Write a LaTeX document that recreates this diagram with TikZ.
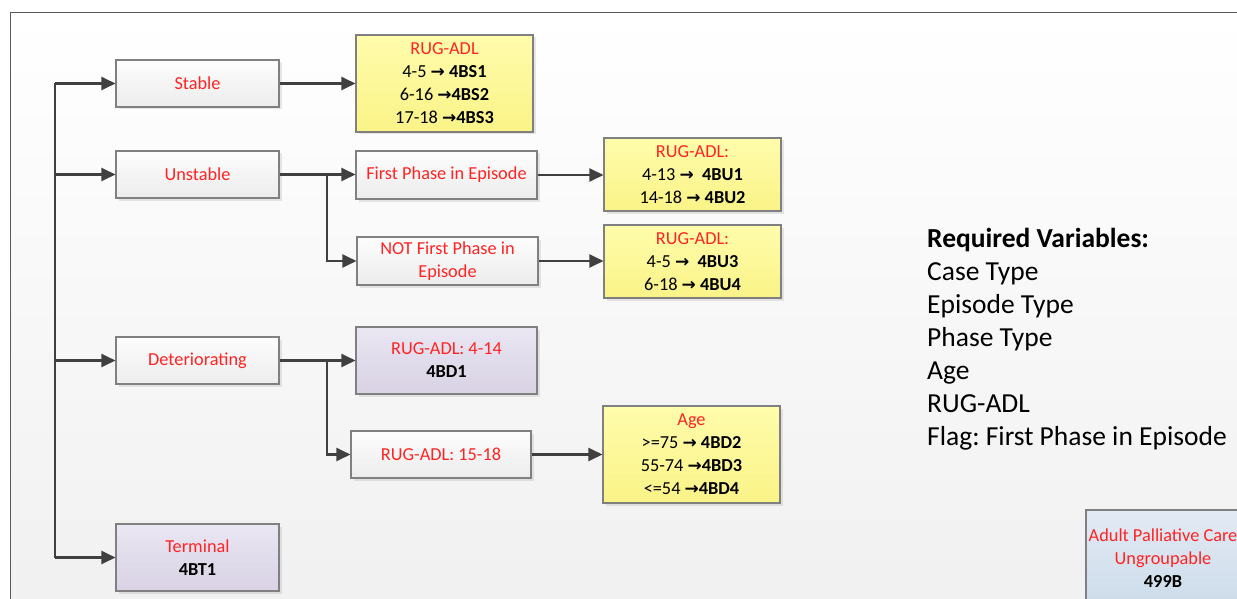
\documentclass[tikz,border=0pt]{standalone}
\usepackage{fontspec}
\setmainfont{Carlito}
\newfontfamily\dejavu{DejaVu Sans}
\usetikzlibrary{arrows.meta,shadows}
\definecolor{redtxt}{RGB}{255,35,35}
\definecolor{linec}{RGB}{64,64,64}
\definecolor{boxborder}{RGB}{128,128,128}
\definecolor{graytop}{RGB}{253,253,253}
\definecolor{graybot}{RGB}{236,236,236}
\definecolor{yeltop}{RGB}{255,252,172}
\definecolor{yelbot}{RGB}{250,243,135}
\definecolor{purtop}{RGB}{234,230,242}
\definecolor{purbot}{RGB}{216,210,228}
\definecolor{blutop}{RGB}{226,234,244}
\definecolor{blubot}{RGB}{205,220,234}
\newcommand\ar{{\dejavu\bfseries\fontsize{17pt}{23pt}\selectfont →}}
\newcommand\rt[1]{\textcolor{redtxt}{#1}}
\tikzset{
  basebox/.style={draw=boxborder, line width=1.1pt, inner sep=0pt, align=center,
    font=\fontsize{18.3pt}{23pt}\selectfont, text=redtxt,
    drop shadow={shadow xshift=2.5pt, shadow yshift=-2.5pt, opacity=0.18}},
  graybox/.style={basebox, top color=graytop, bottom color=graybot},
  yelbox/.style={basebox, top color=yeltop, bottom color=yelbot, text=black},
  purbox/.style={basebox, top color=purtop, bottom color=purbot},
  blubox/.style={basebox, top color=blutop, bottom color=blubot},
  conn/.style={draw=linec, line width=2.3pt},
  arr/.style={conn, -{Triangle[length=14pt,width=13pt]}},
}
\begin{document}
\frenchspacing
\begin{tikzpicture}[x=1pt,y=-1pt]
\useasboundingbox (0,0) rectangle (1237,599);
\clip (0,0) rectangle (1237,599);
\fill[white] (0,0) rectangle (1237,599);
\shade[top color=white, bottom color={rgb,255:red,240;green,240;blue,240}] (10,13) rectangle (1260,620);
\draw[line width=1pt, draw={rgb,255:red,90;green,90;blue,90}] (1260,13) -- (10,13) -- (10,620);

% level 1
\node[graybox, minimum width=163pt, minimum height=47pt] (stable) at (197.5,83.5) {Stable};
\node[graybox, minimum width=163pt, minimum height=47pt] (unstable) at (197.5,174.5) {Unstable};
\node[graybox, minimum width=163pt, minimum height=47pt] (deter) at (197.5,360.5) {Deteriorating};
\node[purbox, minimum width=163pt, minimum height=67pt] (terminal) at (197.5,557.5) {Terminal\\\textcolor{black}{\textbf{4BT1}}};

% level 2
\node[yelbox, minimum width=177pt, minimum height=97pt] (bs) at (444.5,83.5)
  {\rt{RUG-ADL}\\4-5 \ar{} \textbf{4BS1}\\6-16 \ar\textbf{4BS2}\\17-18 \ar\textbf{4BS3}};
\node[graybox, minimum width=181pt, minimum height=48pt] (first) at (446.5,175) {First Phase in Episode};
\node[graybox, minimum width=181pt, minimum height=48pt] (notfirst) at (447.5,261) {NOT First Phase in\\Episode};
\node[purbox, minimum width=181pt, minimum height=67pt] (bd1) at (446.5,360.5) {RUG-ADL: 4-14\\\textcolor{black}{\textbf{4BD1}}};
\node[graybox, minimum width=180pt, minimum height=47pt] (r1518) at (441,454.5) {RUG-ADL: 15-18};

% level 3
\node[yelbox, minimum width=177pt, minimum height=73pt] (bu12) at (692.5,174.5)
  {\rt{RUG-ADL:}\\4-13 \ar{}~ \textbf{4BU1}\\14-18 \ar{} \textbf{4BU2}};
\node[yelbox, minimum width=177pt, minimum height=73pt] (bu34) at (692.5,261.5)
  {\rt{RUG-ADL:}\\4-5 \ar{}~ \textbf{4BU3}\\6-18 \ar{} \textbf{4BU4}};
\node[yelbox, minimum width=177pt, minimum height=97pt] (age) at (691.5,454.5)
  {\rt{Age}\\>=75 \ar{} \textbf{4BD2}\\55-74 \ar\textbf{4BD3}\\<=54 \ar\textbf{4BD4}};

% ungroupable
\node[blubox, minimum width=154pt, minimum height=96pt] (ung) at (1163,558)
  {Adult Palliative Care\\Ungroupable\\\textcolor{black}{\textbf{499B}}};

% required variables
\node[anchor=west, align=left, inner sep=0pt, font=\fontsize{27.5pt}{33pt}\selectfont] (req) at (927,339)
  {\textbf{Required Variables:}\\Case Type\\Episode Type\\Phase Type\\Age\\RUG-ADL\\Flag: First Phase in Episode};

% connectors
\coordinate (trunkTop) at (55,83.5);
\coordinate (trunkBot) at (55,557.5);
\draw[conn] (trunkTop) -- (trunkBot);
\draw[arr] (trunkTop) -- (stable.west);
\draw[arr] (trunkTop |- unstable.west) -- (unstable.west);
\draw[arr] (trunkTop |- deter.west) -- (deter.west);
\draw[arr] (trunkBot) -- (terminal.west);

\draw[arr] (stable.east) -- (bs.west |- stable.east);

\coordinate (ju) at (327,174.5);
\draw[conn] (unstable.east) -- (ju);
\draw[arr] (ju) -- (first.west |- ju);
\draw[arr] (ju) |- (notfirst.west);
\draw[arr] (first.east) -- (bu12.west |- first.east);
\draw[arr] (notfirst.east) -- (bu34.west |- notfirst.east);

\coordinate (jd) at (327,360.5);
\draw[conn] (deter.east) -- (jd);
\draw[arr] (jd) -- (bd1.west);
\draw[arr] (jd) |- (r1518.west);
\draw[arr] (r1518.east) -- (age.west);
\end{tikzpicture}
\end{document}
